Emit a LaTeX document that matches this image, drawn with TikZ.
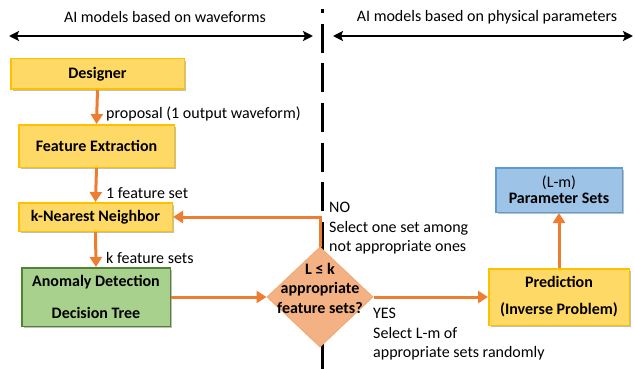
\documentclass[tikz,border=0pt]{standalone}
\usepackage{fontspec}
\setmainfont{Carlito}
\usetikzlibrary{arrows.meta,shapes.geometric,shadows}
\definecolor{yfill}{HTML}{FFD966}
\definecolor{ydraw}{HTML}{FFC000}
\definecolor{gfill}{HTML}{A9D18E}
\definecolor{gdraw}{HTML}{548235}
\definecolor{bfill}{HTML}{9DC3E6}
\definecolor{bdraw}{HTML}{5B9BD5}
\definecolor{dfill}{HTML}{F4B183}
\definecolor{orng}{HTML}{ED7D31}
\tikzset{
  box/.style={rectangle, draw, line width=1.5pt, inner sep=0pt, align=center,
    font=\bfseries\fontsize{16}{15}\selectfont,
    drop shadow={shadow xshift=2pt, shadow yshift=-2pt, opacity=0.25, fill=black}},
  ybox/.style={box, fill=yfill, draw=ydraw},
  gbox/.style={box, fill=gfill, draw=gdraw},
  bbox/.style={box, fill=bfill, draw=bdraw},
  flow/.style={draw=orng, line width=3pt, -{Triangle[length=10pt,width=12pt]}},
  span/.style={draw=black, line width=2.5pt, {Stealth[length=10pt,width=10pt,inset=2pt]}-{Stealth[length=10pt,width=10pt,inset=2pt]}},
  lbl/.style={anchor=base west, inner sep=0pt, font=\fontsize{16}{19}\selectfont},
}
\begin{document}
\begin{tikzpicture}[x=1pt,y=-1pt]
\useasboundingbox (0,0) rectangle (635,369);
% divider
\fill (320.5,9) rectangle (323.5,13);
\draw[line width=3pt, dash pattern=on 29pt off 10.5pt] (322,24) -- (322,369);
% top labels and spans
\node[font=\fontsize{16}{19}\selectfont, inner sep=0pt] (tl) at (165,17) {AI models based on waveforms};
\node[font=\fontsize{16}{19}\selectfont, inner sep=0pt] (tr) at (487,17) {AI models based on physical parameters};
\coordinate (la) at (9,36);
\coordinate (lb) at (313,36);
\coordinate (ra) at (333,36);
\coordinate (rb) at (633,36);
\draw[span] (la) -- (lb);
\draw[span] (ra) -- (rb);
% boxes
\node[ybox, minimum width=173.5pt, minimum height=30.5pt] (des) at (97.5,74) {Designer};
\node[ybox, minimum width=155.5pt, minimum height=42.5pt] (fe) at (96.5,146) {Feature Extraction};
\node[ybox, minimum width=153.5pt, minimum height=28.5pt] (knn) at (95.5,217) {k-Nearest Neighbor};
\node[gbox, minimum width=148.5pt, minimum height=58.5pt] (ad) at (96,297) {Anomaly Detection\\[17pt]Decision Tree};
\node[ybox, minimum width=140.5pt, minimum height=56.5pt] (pr) at (559,297) {Prediction\\[12pt](Inverse Problem)};
\node[bbox, minimum width=126.5pt, minimum height=44.5pt] (ps) at (559,190) {\mdseries (L-m)\\[1pt]Parameter Sets};
% decision
\node[diamond, fill=dfill, draw=dfill!85!orng, line width=1pt, inner sep=0pt, minimum width=106pt, minimum height=100pt] (dec) at (320,297) {};
\node[align=center, inner sep=0pt, font=\bfseries\fontsize{16}{19.5}\selectfont] (dect) at (320,288) {L ≤ k\\appropriate\\feature sets?};
% connectors
\draw[flow] (des.south) -- (fe.north);
\draw[flow] (fe.south) -- (knn.north);
\draw[flow] (knn.south) -- (ad.north);
\draw[flow] (ad.east) -- (dec.west);
\draw[flow] (dec.east) -- (pr.west);
\draw[flow] (pr.north) -- (ps.south);
\draw[flow] (dec.north) |- (knn.east);
% labels
\node[lbl] (l1) at (106,118) {proposal (1 output waveform)};
\node[lbl] (l2) at (106,198) {1 feature set};
\node[lbl] (l3) at (106,263) {k feature sets};
\node[lbl] (n1) at (329,212) {NO};
\node[lbl] (n2) at (329,232) {Select one set among};
\node[lbl] (n3) at (329,251) {not appropriate ones};
\node[lbl] (y1) at (373,318) {YES};
\node[lbl] (y2) at (373,338) {Select L-m of};
\node[lbl] (y3) at (373,357) {appropriate sets randomly};
\end{tikzpicture}
\end{document}
